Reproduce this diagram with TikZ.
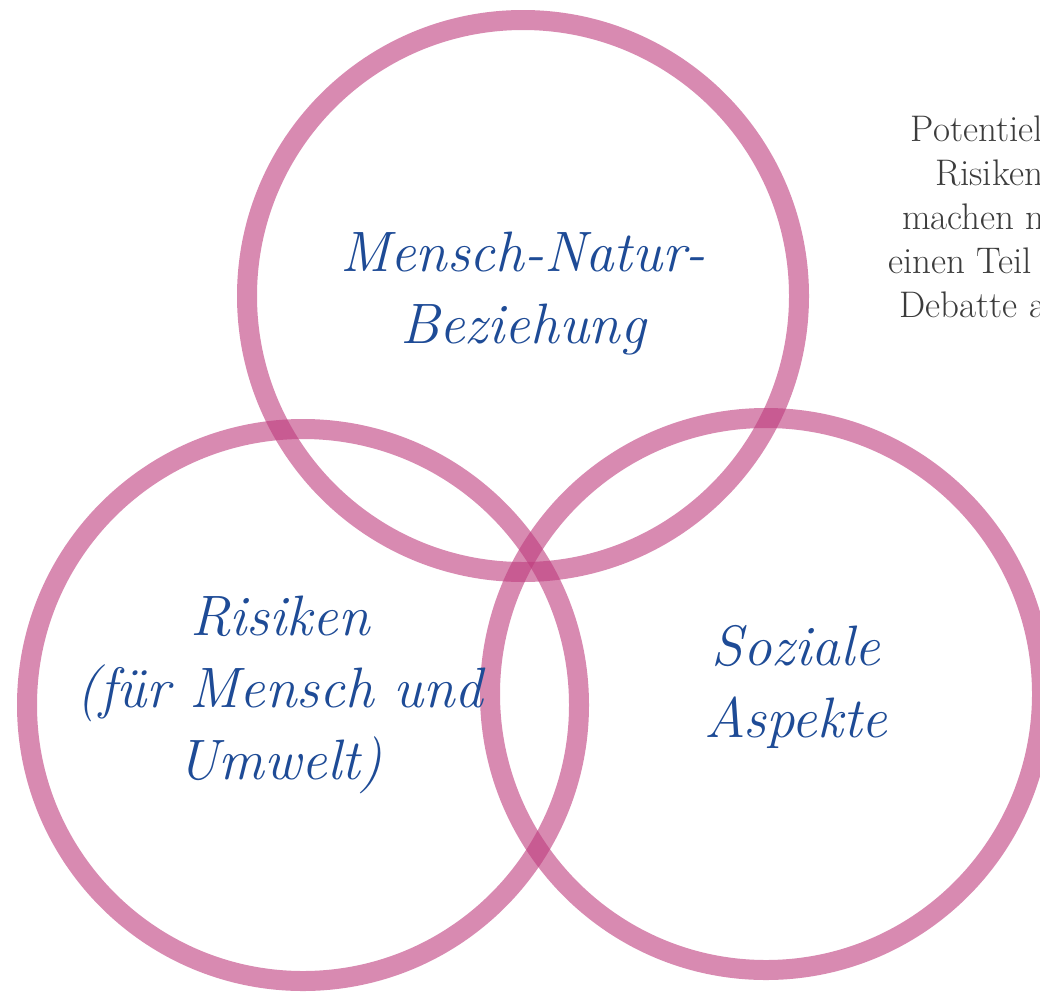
\documentclass[tikz,border=0pt]{standalone}
\usepackage{fontspec}
\usetikzlibrary{positioning}
\definecolor{kreisfarbe}{RGB}{190,60,125}
\definecolor{themafarbe}{RGB}{30,75,150}
\definecolor{notizfarbe}{RGB}{60,60,60}
\tikzset{
	kreis/.style={draw=kreisfarbe,line width=20pt,draw opacity=0.6},
	thema/.style={text=themafarbe,font=\fontsize{57}{72}\selectfont\itshape,align=center},
	notiz/.style={text=notizfarbe,font=\fontsize{37}{44}\selectfont,align=center}
}
\begin{document}
\begin{tikzpicture}[x=1pt,y=-1pt]
	\def\rayon{276}
	\useasboundingbox (0,0) rectangle (1040,996);
	\clip (0,0) rectangle (1040,996); % Notiz rechts wird abgeschnitten
	
	%Mittelpunkte der Kreise
	\coordinate (MN) at (523,296);
	\coordinate (RI) at (303,705);
	\coordinate (SO) at (766,694);
	
	%Kreise
	\foreach \c in {MN,RI,SO}{
		\draw[kreis] (\c) circle (\rayon);
	}
	
	%Beschriftungen
	\node[thema] (mensch) at (523,294) {Mensch-Natur-\\Beziehung};
	\node[thema] (risiken) at (280,695) {Risiken\\(für Mensch und\\Umwelt)};
	\node[thema] (sozial) at (796,687) {Soziale\\Aspekte};
	
	%Notiz
	\node[notiz] (debatte) at (989,217) {Potentielle\\Risiken\\machen nur\\einen Teil der\\Debatte aus};
\end{tikzpicture}
\end{document}
